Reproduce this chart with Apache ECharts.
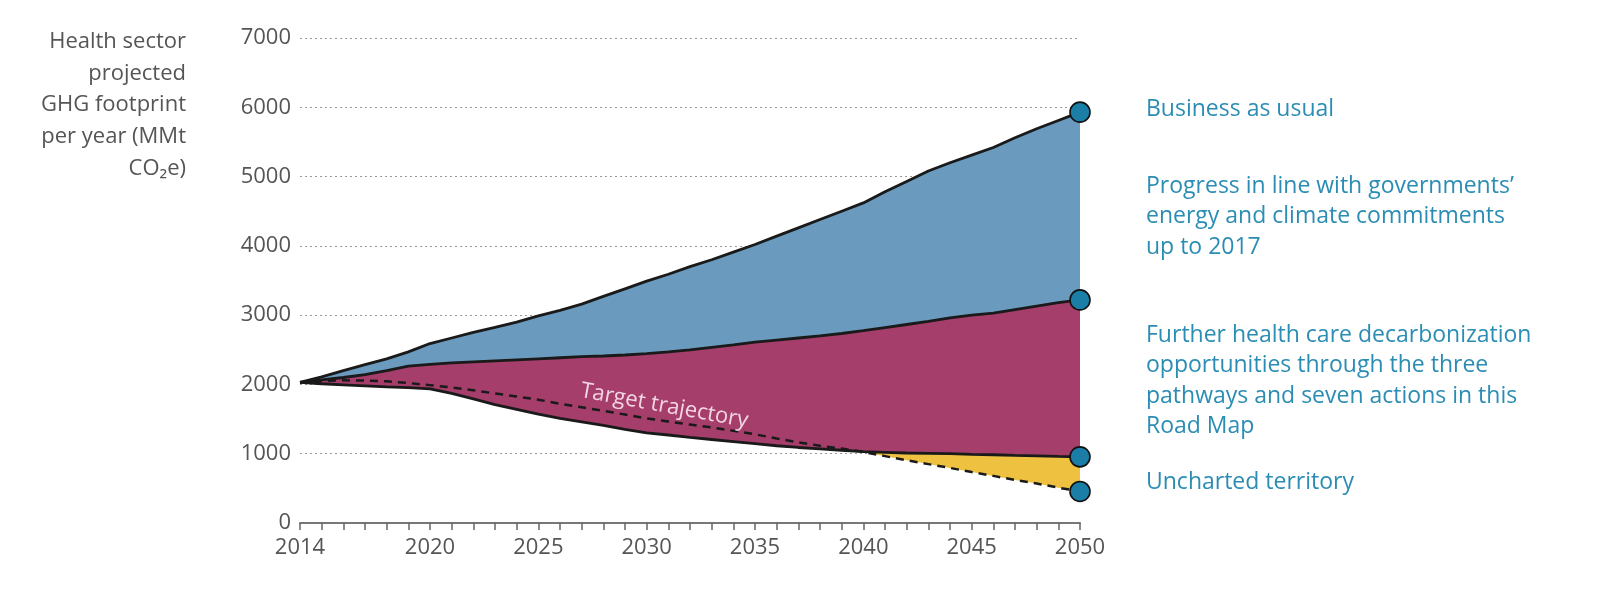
<!DOCTYPE html>
<html>
<head>
<meta charset="utf-8">
<script src="https://cdn.jsdelivr.net/npm/echarts@6/dist/echarts.min.js"></script>
<style>
html,body{margin:0;padding:0;background:#fff;}
#c{width:1600px;height:605px;}
</style>
</head>
<body>
<div id="c"></div>
<script>
const years = [2014,2015,2016,2017,2018,2019,2020,2021,2022,2023,2024,2025,2026,2027,2028,2029,2030,2031,2032,2033,2034,2035,2036,2037,2038,2039,2040,2041,2042,2043,2044,2045,2046,2047,2048,2049,2050];
const businessAsUsual = [2030,2110,2200,2285,2370,2470,2590,2670,2750,2825,2900,2990,3070,3160,3270,3380,3490,3590,3700,3800,3910,4020,4140,4260,4380,4500,4620,4780,4930,5080,5200,5310,5420,5560,5690,5810,5930];
const progressCommitments = [2030,2065,2100,2140,2200,2265,2290,2310,2325,2340,2355,2370,2385,2400,2410,2425,2445,2470,2500,2535,2570,2610,2640,2670,2700,2735,2775,2820,2865,2910,2960,3000,3030,3080,3130,3180,3220];
const furtherDecarbonization = [2030,2010,1995,1980,1965,1955,1935,1870,1790,1710,1640,1570,1510,1460,1410,1350,1300,1270,1235,1205,1175,1145,1115,1090,1070,1050,1030,1020,1010,1005,1000,990,985,975,970,962,955];
const targetTrajectory = [2030,2050,2060,2055,2045,2020,1990,1955,1915,1870,1825,1780,1720,1670,1620,1565,1510,1465,1420,1380,1330,1280,1220,1165,1115,1075,1025,965,905,850,795,735,680,620,570,510,455];
const yTicks = {min:0, max:7000, interval:1000};
const xLabelYears = [2014,2020,2025,2030,2035,2040,2045,2050];
const legendTexts = [
  ["Business as usual"],
  ["Progress in line with governments\u2019","energy and climate commitments","up to 2017"],
  ["Further health care decarbonization","opportunities through the three","pathways and seven actions in this","Road Map"],
  ["Uncharted territory"]
];
const yTitle = ["Health sector","projected","GHG footprint","per year (MMt","CO\u2082e)"];

const FONT = "'Open Sans'";
const base = furtherDecarbonization.map((v,i)=>Math.min(v,targetTrajectory[i]));
const yellow = furtherDecarbonization.map((v,i)=>v-base[i]);
const magenta = progressCommitments.map((v,i)=>v-furtherDecarbonization[i]);
const blue = businessAsUsual.map((v,i)=>v-progressCommitments[i]);

function withEndMarker(arr){
  return arr.map((v,i)=> i===arr.length-1 ? {value:v, symbol:'circle', symbolSize:20,
    itemStyle:{color:'#1b7ea6', borderColor:'#111', borderWidth:1.6}} : {value:v, symbol:'none'});
}
function area(name,data,color){
  return {name, type:'line', stack:'s', data, symbol:'none', silent:true,
    lineStyle:{width:0}, areaStyle:{color, opacity: color?1:0}, z:1};
}
function line(name,data,dashed){
  return {name, type:'line', data:withEndMarker(data), showAllSymbol:true, symbol:'none', silent:true,
    lineStyle:{color:'#1a1a1a', width: dashed?2.5:2.8, type: dashed?[8,6]:'solid'}, z: dashed?4:3};
}

const chart = echarts.init(document.getElementById('c'), null, {renderer:'canvas'});
const graphics = [];
yTitle.forEach((t,i)=>graphics.push({type:'text', x:186, y:42+i*31.6,
  style:{text:t, font:'22px '+FONT, fill:'#555', align:'right', verticalAlign:'middle'}}));
const legendCenter = [109, 186, 335, 482];
legendTexts.forEach((lines,k)=>lines.forEach((t,i)=>graphics.push({type:'text', x:1146, y:legendCenter[k]+i*30.6,
  style:{text:t, font:'23px '+FONT, fill:'#2b8db4', verticalAlign:'middle'}})));

chart.setOption({
  animation:false,
  grid:{left:300, right:520, top:38, bottom:82, containLabel:false},
  xAxis:{type:'category', data:years, boundaryGap:false,
    axisLine:{lineStyle:{color:'#777', width:2}},
    axisTick:{interval:0, length:7, lineStyle:{color:'#666', width:1.5}},
    axisLabel:{interval:(i,v)=>xLabelYears.includes(+v), color:'#555', fontSize:22, fontFamily:'Open Sans', margin:14},
    splitLine:{show:false}},
  yAxis:{type:'value', min:yTicks.min, max:yTicks.max, interval:yTicks.interval,
    axisLine:{show:false}, axisTick:{show:false},
    axisLabel:{color:'#555', fontSize:22, fontFamily:'Open Sans', margin:9, formatter:v=>String(v)},
    splitLine:{lineStyle:{color:'#999', type:[2,3], width:1.2}}},
  series:[
    area('base', base, null),
    area('yellow', yellow, '#eec140'),
    area('magenta', magenta, '#a53e6b'),
    area('blue', blue, '#6a9bbe'),
    line('Further', furtherDecarbonization, false),
    line('Progress', progressCommitments, false),
    line('BAU', businessAsUsual, false),
    line('Target', targetTrajectory, true)
  ],
  graphic: graphics
});
const p = chart.convertToPixel({xAxisIndex:0, yAxisIndex:0}, [years.indexOf(2031), 1690]);
graphics.push({type:'text', x:p[0]-4, y:p[1], rotation:-0.18,
  style:{text:'Target trajectory', font:'22px '+FONT, fill:'#f3d6e4', align:'center', verticalAlign:'middle'}, z:10});
chart.setOption({graphic: graphics});
</script>
</body>
</html>
